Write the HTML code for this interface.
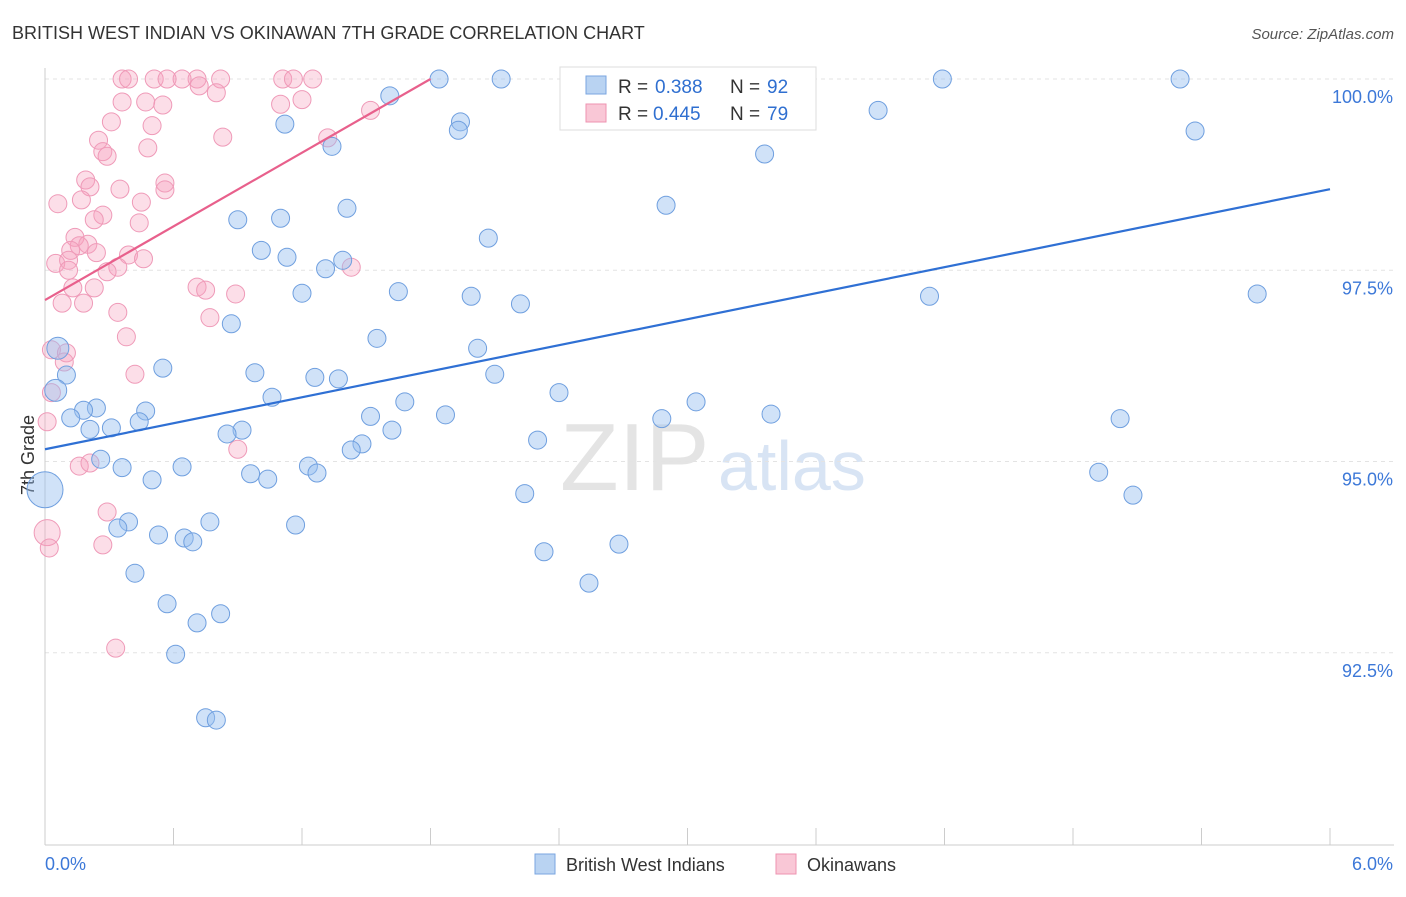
<!DOCTYPE html>
<html><head><meta charset="utf-8"><style>
body{margin:0;background:#fff;font-family:"Liberation Sans",sans-serif;}
svg text{font-family:"Liberation Sans",sans-serif;}
</style></head><body>
<svg id="c" width="1406" height="892">
<text x="12" y="39" font-size="18" fill="#333">BRITISH WEST INDIAN VS OKINAWAN 7TH GRADE CORRELATION CHART</text>
<text x="1394" y="39" font-size="15" fill="#555" font-style="italic" text-anchor="end">Source: ZipAtlas.com</text>
<text x="560" y="490" font-size="96" fill="#e4e4e4" font-family="Liberation Serif">ZIP</text>
<text x="718" y="490" font-size="70" fill="#d8e4f4">atlas</text>
<text x="34" y="455" font-size="18" fill="#333" transform="rotate(-90 34 455)" text-anchor="middle">7th Grade</text>
<g id="grid"></g><g id="pts"></g><g id="lines"></g>
<g>
<rect x="560" y="67" width="256" height="63" fill="#fff" stroke="#ddd"/>
<rect x="586" y="76" width="20" height="18" fill="#b9d3f2" stroke="#7aa6e0"/>
<rect x="586" y="104" width="20" height="18" fill="#f9c7d6" stroke="#ee93b0"/>
<text x="618" y="93" font-size="19" fill="#333">R =</text>
<text x="655" y="93" font-size="19" fill="#2f6fd0">0.388</text>
<text x="730" y="93" font-size="19" fill="#333">N =</text>
<text x="767" y="93" font-size="19" fill="#2f6fd0">92</text>
<text x="618" y="120" font-size="19" fill="#333">R =</text>
<text x="653" y="120" font-size="19" fill="#2f6fd0">0.445</text>
<text x="730" y="120" font-size="19" fill="#333">N =</text>
<text x="767" y="120" font-size="19" fill="#2f6fd0">79</text>
</g>
<g>
<rect x="535" y="854" width="20" height="20" fill="#b9d3f2" stroke="#7aa6e0"/>
<text x="566" y="871" font-size="18" fill="#333">British West Indians</text>
<rect x="776" y="854" width="20" height="20" fill="#f9c7d6" stroke="#ee93b0"/>
<text x="807" y="871" font-size="18" fill="#333">Okinawans</text>
</g>
</svg>
<script>
const xTicks=[0,0.6,1.2,1.8,2.4,3.0,3.6,4.2,4.8,5.4,6.0];
const yTicks=[100,97.5,95,92.5];
const yTickLabels=["100.0%","97.5%","95.0%","92.5%"];
const blueX=[1.84,2.13,4.19,5.30,3.50,1.61,3.89,1.94,1.93,5.37,1.12,1.34,3.36,2.90,1.41,0.90,1.10,2.07,1.01,1.13,1.39,1.31,1.65,1.20,1.99,2.22,4.13,5.66,0.87,1.55,2.02,0.06,0.55,0.98,2.10,1.26,1.37,0.10,0.05,1.06,2.40,1.68,3.04,0.47,0.24,0.18,0.12,1.52,1.87,2.88,3.39,5.02,0.44,0.21,0.31,1.62,0.92,0.85,2.30,1.48,1.43,0.26,0.64,0.36,1.23,1.27,0.96,1.04,0.50,4.92,0.00,2.24,5.08,0.77,0.39,0.34,1.17,0.53,0.65,0.69,2.33,2.68,0.42,2.54,0.57,0.82,0.71,0.61,0.75,0.80];
const blueY=[100,100,100,100,99.93,99.78,99.59,99.44,99.33,99.32,99.41,99.12,99.02,98.35,98.31,98.16,98.18,97.92,97.76,97.67,97.63,97.52,97.22,97.20,97.16,97.06,97.16,97.19,96.80,96.61,96.48,96.48,96.22,96.16,96.14,96.10,96.08,96.13,95.93,95.84,95.90,95.78,95.78,95.66,95.70,95.67,95.57,95.59,95.61,95.56,95.62,95.56,95.52,95.42,95.44,95.41,95.41,95.36,95.28,95.23,95.15,95.03,94.93,94.92,94.94,94.85,94.84,94.77,94.76,94.86,94.63,94.58,94.56,94.21,94.21,94.13,94.17,94.04,94.00,93.95,93.82,93.92,93.54,93.41,93.14,93.01,92.89,92.48,91.65,91.62];
const pinkX=[0.36,0.39,0.51,0.57,0.64,0.71,0.82,1.11,1.16,1.25,0.72,0.80,0.36,0.47,0.55,1.10,1.20,1.52,0.31,0.50,0.83,0.25,1.32,0.48,0.27,0.29,0.19,0.56,0.21,0.35,0.56,0.06,0.17,0.45,0.27,0.23,0.44,0.14,0.20,0.16,0.12,0.24,0.39,0.46,0.05,0.11,0.11,0.34,0.29,1.43,0.71,0.75,0.23,0.13,0.89,0.08,0.18,0.34,0.77,0.38,0.03,0.10,0.09,0.42,0.03,0.01,0.16,0.21,0.90,0.29,0.01,0.27,0.02,0.33];
const pinkY=[100,100,100,100,100,100,100,100,100,100,99.91,99.82,99.70,99.70,99.66,99.67,99.73,99.59,99.44,99.39,99.24,99.20,99.23,99.10,99.05,98.99,98.68,98.64,98.59,98.56,98.55,98.37,98.42,98.39,98.22,98.16,98.12,97.93,97.84,97.82,97.76,97.73,97.70,97.65,97.59,97.63,97.50,97.54,97.48,97.54,97.28,97.24,97.27,97.27,97.19,97.07,97.07,96.95,96.88,96.63,96.46,96.42,96.30,96.14,95.90,95.52,94.94,94.98,95.16,94.34,94.07,93.91,93.87,92.56];
const blueTrend=[[0,95.16],[6,98.56]];
const pinkTrend=[[0,97.11],[1.80,100]];
const sx=v=>45+v/6*1285, sy=v=>79+(100-v)*76.5;
const NS="http://www.w3.org/2000/svg";
function mk(t,a,p){const e=document.createElementNS(NS,t);for(const k in a)e.setAttribute(k,a[k]);p.appendChild(e);return e;}
const g=document.getElementById('grid');
yTicks.forEach((v,i)=>{
 const l=mk('line',{x1:45,x2:1394,y1:sy(v),y2:sy(v),stroke:'#e3e3e3','stroke-dasharray':'4,4'},g);
 
 
 const t=mk('text',{x:1393,y:sy(v)+24,'font-size':18,fill:'#3c78d8','text-anchor':'end'},g);t.textContent=yTickLabels[i];
 
 
});
mk('line',{x1:45,x2:45,y1:68,y2:845,stroke:'#ccc'},g);
mk('line',{x1:45,x2:1394,y1:845,y2:845,stroke:'#ccc'},g);
xTicks.forEach(v=>{const l=mk('line',{x1:sx(v),x2:sx(v),y1:828,y2:845,stroke:'#ccc'},g);
 
 });
let t0=mk('text',{x:45,y:870,'font-size':18,fill:'#3c78d8'},g);t0.textContent='0.0%';


let t1=mk('text',{x:1393,y:870,'font-size':18,fill:'#3c78d8','text-anchor':'end'},g);t1.textContent='6.0%';


const P=document.getElementById('pts');
pinkX.forEach((x,i)=>{const r=(i==70)?13:9;const c=mk('circle',{cx:sx(x),cy:sy(pinkY[i]),r:r,fill:'rgba(245,160,190,0.35)',stroke:'#ef9ab8','stroke-width':1},P);
 
 });
blueX.forEach((x,i)=>{const r=(i==70)?18:(i==31||i==38?11:9);const c=mk('circle',{cx:sx(x),cy:sy(blueY[i]),r:r,fill:'rgba(150,190,240,0.45)',stroke:'#6f9fdf','stroke-width':1},P);
 
 });
const L=document.getElementById('lines');
const bl=mk('line',{x1:sx(blueTrend[0][0]),y1:sy(blueTrend[0][1]),x2:sx(blueTrend[1][0]),y2:sy(blueTrend[1][1]),stroke:'#2f70d4','stroke-width':2.2},L);


const pl=mk('line',{x1:sx(pinkTrend[0][0]),y1:sy(pinkTrend[0][1]),x2:sx(pinkTrend[1][0]),y2:sy(pinkTrend[1][1]),stroke:'#e8608c','stroke-width':2.2},L);


</script>
</body></html>
